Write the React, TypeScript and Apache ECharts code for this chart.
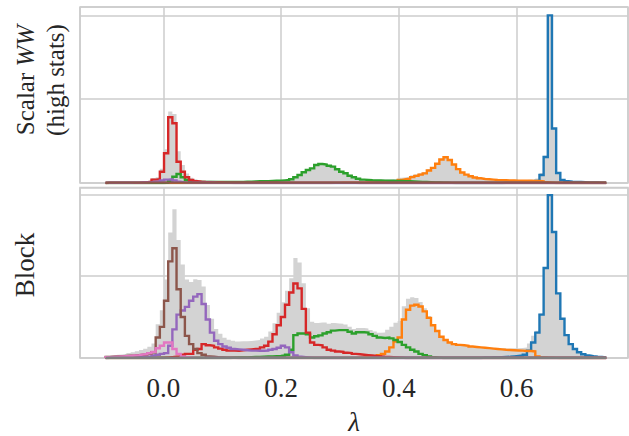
import React, { useEffect, useRef } from "react";
import * as echarts from "echarts";

// ---------- histogram layout (bins) ----------
const N_BINS = 120;
const BIN_LO = -0.098;
const BIN_HI = 0.752;

// ---------- axis ----------
const X_MIN = -0.1415;
const X_MAX = 0.789;
const TOP_Y_MAX = 2.1;
const BOTTOM_Y_MAX = 2.083;

// ---------- colours ----------
const C_BLUE = "#1f77b4";
const C_ORANGE = "#ff7f0e";
const C_GREEN = "#2ca02c";
const C_RED = "#d62728";
const C_PURPLE = "#9467bd";
const C_BROWN = "#8c564b";
const C_PINK = "#e377c2";
const C_GRAY = "#7f7f7f";
const C_FILL = "#d3d3d3";

// ---------- TOP panel: Scalar WW (high stats) ----------
const TOP_TOTAL_START = 0;
const TOP_TOTAL = [
  0.009, 0.009, 0.009, 0.009, 0.009, 0.009, 0.01, 0.011, 0.016, 0.022,
  0.029, 0.059, 0.068, 0.169, 0.404, 0.854, 0.822, 0.38, 0.215, 0.113,
  0.064, 0.045, 0.035, 0.031, 0.029, 0.027, 0.025, 0.024, 0.023, 0.022,
  0.019, 0.02, 0.021, 0.022, 0.023, 0.025, 0.027, 0.028, 0.029, 0.031,
  0.033, 0.034, 0.037, 0.041, 0.05, 0.074, 0.102, 0.134, 0.161, 0.181,
  0.221, 0.233, 0.226, 0.211, 0.203, 0.172, 0.144, 0.125, 0.097, 0.078,
  0.06, 0.049, 0.046, 0.043, 0.042, 0.042, 0.042, 0.043, 0.045, 0.049,
  0.064, 0.07, 0.074, 0.092, 0.105, 0.118, 0.131, 0.164, 0.192, 0.24,
  0.288, 0.314, 0.281, 0.224, 0.169, 0.129, 0.104, 0.084, 0.069, 0.06,
  0.052, 0.048, 0.044, 0.04, 0.038, 0.039, 0.037, 0.038, 0.036, 0.036,
  0.036, 0.038, 0.041, 0.053, 0.12, 0.324, 2.009, 0.654, 0.124, 0.04,
  0.024, 0.02, 0.018, 0.016, 0.014, 0.012, 0.011, 0.01, 0.009, 0.008,
];
const TOP_BLUE_START = 95;
const TOP_BLUE = [
  0.003, 0.003, 0.004, 0.004, 0.005, 0.006, 0.008, 0.012, 0.025, 0.096,
  0.31, 2.0, 0.65, 0.12, 0.036, 0.02, 0.016, 0.014, 0.012, 0.01,
  0.008, 0.007, 0.006, 0.005, 0.004,
];
const TOP_ORANGE_START = 54;
const TOP_ORANGE = [
  0.002, 0.002, 0.003, 0.003, 0.004, 0.004, 0.005, 0.005, 0.006, 0.007,
  0.008, 0.009, 0.01, 0.012, 0.015, 0.02, 0.036, 0.044, 0.05, 0.07,
  0.085, 0.1, 0.115, 0.15, 0.18, 0.23, 0.28, 0.307, 0.275, 0.22,
  0.165, 0.125, 0.1, 0.08, 0.065, 0.056, 0.048, 0.044, 0.04, 0.036,
  0.034, 0.032, 0.03, 0.03, 0.028, 0.027, 0.026, 0.026, 0.025, 0.024,
  0.02, 0.01, 0.005,
];
const TOP_GREEN_START = 14;
const TOP_GREEN = [
  0.005, 0.02, 0.075, 0.107, 0.068, 0.036, 0.02, 0.015,
  0.012, 0.012, 0.012, 0.012, 0.012, 0.012, 0.012, 0.012, 0.012,
  0.013, 0.014, 0.015, 0.016, 0.018, 0.02, 0.021, 0.022, 0.024, 0.026,
  0.028, 0.031, 0.035, 0.044, 0.068, 0.096, 0.128, 0.155, 0.175, 0.215,
  0.227, 0.22, 0.205, 0.195, 0.164, 0.135, 0.116, 0.087, 0.068, 0.051,
  0.04, 0.036, 0.032, 0.03, 0.029, 0.028, 0.027, 0.026, 0.025, 0.024,
  0.022, 0.02, 0.018, 0.016, 0.014, 0.012, 0.01, 0.008, 0.006, 0.004,
  0.003, 0.002,
];
const TOP_RED_START = 0;
const TOP_RED = [
  0.002, 0.002, 0.002, 0.002, 0.002, 0.002, 0.002, 0.002, 0.006, 0.01,
  0.015, 0.04, 0.044, 0.135, 0.355, 0.785, 0.713, 0.254, 0.135, 0.068,
  0.036, 0.022, 0.016, 0.012, 0.01, 0.008, 0.007, 0.006, 0.005, 0.004,
  0.003, 0.003, 0.003, 0.003, 0.003, 0.003, 0.003, 0.003, 0.003, 0.003,
  0.003, 0.002, 0.002, 0.002, 0.002, 0.002, 0.002, 0.002, 0.002, 0.002,
  0.002, 0.002, 0.002, 0.002, 0.002, 0.002, 0.002, 0.002, 0.002, 0.002,
];
const TOP_PURPLE_START = 0;
const TOP_PURPLE = [
  0.003, 0.003, 0.003, 0.003, 0.003, 0.003, 0.004, 0.005, 0.006, 0.008,
  0.01, 0.015, 0.02, 0.03, 0.04, 0.045, 0.03, 0.015, 0.008, 0.005,
  0.004, 0.004, 0.003, 0.003, 0.003, 0.003, 0.002, 0.002, 0.002, 0.002,
];
const TOP_BROWN_START = 0;
const TOP_BROWN = [
  0.004, 0.004, 0.004, 0.004, 0.004, 0.004, 0.004, 0.004, 0.004, 0.004,
  0.004, 0.004, 0.004, 0.004, 0.004, 0.004, 0.004, 0.004, 0.004, 0.004,
  0.004, 0.004, 0.004, 0.004, 0.004, 0.004, 0.004, 0.004, 0.004, 0.004,
  0.004, 0.004, 0.004, 0.004, 0.004, 0.004, 0.004, 0.004, 0.004, 0.004,
  0.004, 0.004, 0.004, 0.004, 0.004, 0.004, 0.004, 0.004, 0.004, 0.004,
  0.004, 0.004, 0.004, 0.004, 0.004, 0.004, 0.004, 0.004, 0.004, 0.004,
  0.004, 0.004, 0.004, 0.004, 0.004, 0.004, 0.004, 0.004, 0.004, 0.004,
  0.004, 0.004, 0.004, 0.004, 0.004, 0.004, 0.004, 0.004, 0.004, 0.004,
  0.004, 0.004, 0.004, 0.004, 0.004, 0.004, 0.004, 0.004, 0.004, 0.004,
  0.004, 0.004, 0.004, 0.004, 0.004, 0.004, 0.004, 0.004, 0.004, 0.004,
  0.004, 0.004, 0.004, 0.004, 0.004, 0.004, 0.004, 0.004, 0.004, 0.004,
  0.004, 0.004, 0.004, 0.004, 0.004, 0.004, 0.004, 0.004, 0.004, 0.004,
];

// ---------- BOTTOM panel: Block ----------
const BOT_TOTAL_START = 0;
const BOT_TOTAL = [
  0.028, 0.033, 0.039, 0.044, 0.051, 0.06, 0.071, 0.083, 0.097, 0.113,
  0.138, 0.178, 0.413, 0.583, 0.958, 1.533, 1.818, 1.443, 1.143, 0.958,
  0.928, 0.963, 0.953, 0.873, 0.648, 0.478, 0.353, 0.296, 0.248, 0.222,
  0.211, 0.202, 0.205, 0.206, 0.208, 0.215, 0.22, 0.237, 0.261, 0.323,
  0.425, 0.553, 0.682, 0.823, 0.973, 1.223, 1.168, 0.913, 0.608, 0.443,
  0.428, 0.434, 0.433, 0.418, 0.428, 0.423, 0.418, 0.408, 0.383, 0.353,
  0.368, 0.366, 0.36, 0.341, 0.323, 0.308, 0.313, 0.345, 0.383, 0.431,
  0.453, 0.633, 0.723, 0.743, 0.733, 0.683, 0.608, 0.513, 0.413, 0.338,
  0.263, 0.223, 0.193, 0.173, 0.163, 0.158, 0.153, 0.143, 0.138, 0.133,
  0.132, 0.128, 0.124, 0.121, 0.118, 0.115, 0.116, 0.118, 0.12, 0.123,
  0.128, 0.178, 0.273, 0.333, 0.543, 1.109, 1.997, 1.545, 0.793, 0.483,
  0.283, 0.173, 0.113, 0.073, 0.048, 0.033, 0.025, 0.019, 0.015, 0.011,
];
const BOT_BLUE_START = 90;
const BOT_BLUE = [
  0.004, 0.005, 0.006, 0.008, 0.01, 0.012, 0.015, 0.02, 0.025, 0.03,
  0.04, 0.09, 0.19, 0.31, 0.53, 1.1, 1.99, 1.54, 0.79, 0.48,
  0.28, 0.17, 0.11, 0.07, 0.045, 0.03, 0.022, 0.016, 0.012, 0.008,
];
const BOT_ORANGE_START = 60;
const BOT_ORANGE = [
  0.005, 0.008, 0.012, 0.018, 0.025, 0.035, 0.05, 0.08, 0.13, 0.2,
  0.25, 0.47, 0.59, 0.64, 0.65, 0.63, 0.57, 0.49, 0.4, 0.33,
  0.26, 0.22, 0.19, 0.17, 0.16, 0.155, 0.15, 0.14, 0.135, 0.13,
  0.125, 0.12, 0.115, 0.11, 0.105, 0.1, 0.098, 0.095, 0.092, 0.09,
  0.085, 0.085, 0.08, 0.02, 0.01, 0.006, 0.004, 0.002,
];
const BOT_GREEN_START = 30;
const BOT_GREEN = [
  0.005, 0.006, 0.007, 0.008, 0.01, 0.012, 0.014, 0.016, 0.018, 0.02,
  0.022, 0.025, 0.03, 0.04, 0.1, 0.28, 0.3, 0.3, 0.29, 0.25,
  0.265, 0.276, 0.3, 0.315, 0.335, 0.34, 0.34, 0.34, 0.32, 0.3,
  0.315, 0.315, 0.31, 0.29, 0.27, 0.25, 0.245, 0.25, 0.24, 0.22,
  0.195, 0.16, 0.13, 0.1, 0.08, 0.05, 0.035, 0.02, 0.01, 0.005,
];
const BOT_RED_START = 14;
const BOT_RED = [
  0.005, 0.01, 0.015, 0.02, 0.04, 0.05, 0.05, 0.1, 0.11, 0.17,
  0.155, 0.15, 0.13, 0.115, 0.1, 0.09, 0.09, 0.088, 0.095, 0.1,
  0.105, 0.11, 0.115, 0.13, 0.15, 0.2, 0.29, 0.4, 0.5, 0.65,
  0.8, 0.91, 0.85, 0.6, 0.31, 0.19, 0.16, 0.155, 0.13, 0.1,
  0.09, 0.08, 0.075, 0.065, 0.06, 0.05, 0.045, 0.04, 0.035, 0.03,
  0.025, 0.02, 0.015, 0.012, 0.01, 0.008, 0.005,
];
const BOT_PURPLE_START = 0;
const BOT_PURPLE = [
  0.003, 0.003, 0.003, 0.003, 0.003, 0.005, 0.008, 0.01, 0.012, 0.015,
  0.02, 0.03, 0.04, 0.05, 0.06, 0.15, 0.35, 0.53, 0.58, 0.625,
  0.7, 0.75, 0.78, 0.66, 0.47, 0.31, 0.21, 0.17, 0.14, 0.125,
  0.11, 0.105, 0.1, 0.095, 0.09, 0.09, 0.088, 0.088, 0.09, 0.1,
  0.11, 0.125, 0.149, 0.13, 0.07, 0.03, 0.015, 0.01, 0.005,
];
const BOT_BROWN_START = 0;
const BOT_BROWN = [
  0.012, 0.015, 0.018, 0.02, 0.024, 0.027, 0.03, 0.035, 0.04, 0.045,
  0.055, 0.07, 0.25, 0.38, 0.7, 1.18, 1.34, 0.84, 0.5, 0.27,
  0.17, 0.11, 0.06, 0.04, 0.02, 0.015, 0.01, 0.008, 0.005, 0.004,
  0.003,
];
const BOT_PINK_START = 0;
const BOT_PINK = [
  0.01, 0.012, 0.015, 0.018, 0.021, 0.025, 0.03, 0.035, 0.042, 0.05,
  0.06, 0.075, 0.12, 0.15, 0.19, 0.19, 0.11, 0.05, 0.02, 0.01,
  0.005,
];
const BOT_GRAY_START = 0;
const BOT_GRAY = [
  0.003, 0.003, 0.003, 0.003, 0.003, 0.003, 0.003, 0.003, 0.003, 0.003,
  0.003, 0.003, 0.003, 0.003, 0.003, 0.003, 0.003, 0.003, 0.003, 0.003,
  0.003, 0.003, 0.003, 0.003, 0.003, 0.003, 0.003, 0.003, 0.003, 0.003,
  0.003, 0.003, 0.003, 0.003, 0.003, 0.003, 0.003, 0.003, 0.003, 0.003,
  0.003, 0.003, 0.003, 0.003, 0.003, 0.003, 0.003, 0.003, 0.003, 0.003,
  0.003, 0.003, 0.003, 0.003, 0.003, 0.003, 0.003, 0.003, 0.003, 0.003,
  0.003, 0.003, 0.003, 0.003, 0.003, 0.003, 0.003, 0.003, 0.003, 0.003,
  0.003, 0.003, 0.003, 0.003, 0.003, 0.003, 0.003, 0.003, 0.003, 0.003,
  0.003, 0.003, 0.003, 0.003, 0.003, 0.003, 0.003, 0.003, 0.003, 0.003,
  0.003, 0.003, 0.003, 0.003, 0.003, 0.003, 0.003, 0.003, 0.003, 0.003,
  0.003, 0.003, 0.003, 0.003, 0.003, 0.003, 0.003, 0.003, 0.003, 0.003,
  0.003, 0.003, 0.003, 0.003, 0.003, 0.003, 0.003, 0.003, 0.003, 0.003,
];

const SERIF = "'Liberation Serif', 'DejaVu Serif', serif";
const TEXT_COLOR = "#262626";
const GRID_COLOR = "#cccccc";

// place a sparse run of bin counts into the full bin array (empty bins are 0)
function place(start: number, values: number[]): number[] {
  const out: number[] = [];
  for (let i = 0; i < N_BINS; i++) {
    const k = i - start;
    out.push(k >= 0 && k < values.length ? values[k] : 0);
  }
  return out;
}

// outline of a step histogram: up at first edge, across each bin, down at last edge
function stepData(counts: number[]): [number, number][] {
  const w = (BIN_HI - BIN_LO) / N_BINS;
  const pts: [number, number][] = [[BIN_LO, 0]];
  counts.forEach((v, i) => pts.push([BIN_LO + i * w, v]));
  pts.push([BIN_HI, counts[counts.length - 1]]);
  pts.push([BIN_HI, 0]);
  return pts;
}

function lineSeries(counts: number[], color: string, idx: number) {
  return {
    type: "line",
    xAxisIndex: idx,
    yAxisIndex: idx,
    data: stepData(counts),
    step: "end",
    symbol: "none",
    showSymbol: false,
    silent: true,
    lineStyle: { color, width: 2.4, join: "miter" },
    itemStyle: { color },
    z: 3,
  };
}

function fillSeries(counts: number[], idx: number) {
  return {
    type: "line",
    xAxisIndex: idx,
    yAxisIndex: idx,
    data: stepData(counts),
    step: "end",
    symbol: "none",
    showSymbol: false,
    silent: true,
    lineStyle: { width: 0, opacity: 0 },
    areaStyle: { color: C_FILL, opacity: 1 },
    z: 2,
  };
}

function xAxis(idx: number, showLabels: boolean) {
  return {
    type: "value",
    gridIndex: idx,
    min: X_MIN,
    max: X_MAX,
    splitNumber: 5,
    axisLine: { show: false },
    axisTick: { show: false },
    splitLine: { show: true, lineStyle: { color: GRID_COLOR, width: 1.5 } },
    axisLabel: {
      show: showLabels,
      showMinLabel: false,
      showMaxLabel: false,
      margin: 16,
      fontSize: 27,
      fontFamily: SERIF,
      color: TEXT_COLOR,
      formatter: (v: number) => v.toFixed(1),
    },
    name: showLabels ? "λ" : "",
    nameLocation: "middle",
    nameGap: 50,
    nameTextStyle: {
      fontSize: 27,
      fontFamily: SERIF,
      fontStyle: "italic",
      color: TEXT_COLOR,
    },
  };
}

function yAxis(idx: number, max: number) {
  return {
    type: "value",
    gridIndex: idx,
    min: 0,
    max,
    interval: 1,
    axisLine: { show: false },
    axisTick: { show: false },
    axisLabel: { show: false },
    splitLine: { show: true, lineStyle: { color: GRID_COLOR, width: 1.5 } },
  };
}

export default function App() {
  const ref = useRef<HTMLDivElement>(null);

  useEffect(() => {
    if (!ref.current) return;
    const chart = echarts.init(ref.current, null, { renderer: "svg" });

    const option = {
      animation: false,
      backgroundColor: "#ffffff",
      grid: [
        {
          left: 80,
          top: 7,
          width: 548,
          height: 176,
          show: true,
          borderColor: GRID_COLOR,
          borderWidth: 1.5,
          backgroundColor: "transparent",
        },
        {
          left: 80,
          top: 187.5,
          width: 548,
          height: 175,
          show: true,
          borderColor: GRID_COLOR,
          borderWidth: 1.5,
          backgroundColor: "transparent",
        },
      ],
      xAxis: [xAxis(0, false), xAxis(1, true)],
      yAxis: [yAxis(0, TOP_Y_MAX), yAxis(1, BOTTOM_Y_MAX)],
      series: [
        fillSeries(place(TOP_TOTAL_START, TOP_TOTAL), 0),
        lineSeries(place(TOP_BLUE_START, TOP_BLUE), C_BLUE, 0),
        lineSeries(place(TOP_ORANGE_START, TOP_ORANGE), C_ORANGE, 0),
        lineSeries(place(TOP_GREEN_START, TOP_GREEN), C_GREEN, 0),
        lineSeries(place(TOP_RED_START, TOP_RED), C_RED, 0),
        lineSeries(place(TOP_PURPLE_START, TOP_PURPLE), C_PURPLE, 0),
        lineSeries(place(TOP_BROWN_START, TOP_BROWN), C_BROWN, 0),

        fillSeries(place(BOT_TOTAL_START, BOT_TOTAL), 1),
        lineSeries(place(BOT_BLUE_START, BOT_BLUE), C_BLUE, 1),
        lineSeries(place(BOT_ORANGE_START, BOT_ORANGE), C_ORANGE, 1),
        lineSeries(place(BOT_GREEN_START, BOT_GREEN), C_GREEN, 1),
        lineSeries(place(BOT_RED_START, BOT_RED), C_RED, 1),
        lineSeries(place(BOT_PURPLE_START, BOT_PURPLE), C_PURPLE, 1),
        lineSeries(place(BOT_BROWN_START, BOT_BROWN), C_BROWN, 1),
        lineSeries(place(BOT_PINK_START, BOT_PINK), C_PINK, 1),
        lineSeries(place(BOT_GRAY_START, BOT_GRAY), C_GRAY, 1),
      ],
      graphic: [
        {
          type: "text",
          x: 40,
          y: 80,
          rotation: Math.PI / 2,
          silent: true,
          style: {
            text: "{a|Scalar }{b|WW}\n{a|(high stats)}",
            align: "center",
            verticalAlign: "middle",
            rich: {
              a: { fontFamily: SERIF, fontSize: 25, fill: TEXT_COLOR, lineHeight: 30 },
              b: {
                fontFamily: SERIF,
                fontSize: 25,
                fontStyle: "italic",
                fill: TEXT_COLOR,
                lineHeight: 30,
              },
            },
          },
        },
        {
          type: "text",
          x: 25,
          y: 265,
          rotation: Math.PI / 2,
          silent: true,
          style: {
            text: "Block",
            fontFamily: SERIF,
            fontSize: 27,
            fill: TEXT_COLOR,
            align: "center",
            verticalAlign: "middle",
          },
        },
      ],
    };

    chart.setOption(option as any);
    return () => chart.dispose();
  }, []);

  return (
    <div
      ref={ref}
      style={{ position: "fixed", left: 0, top: 0, width: 629, height: 436 }}
    />
  );
}
